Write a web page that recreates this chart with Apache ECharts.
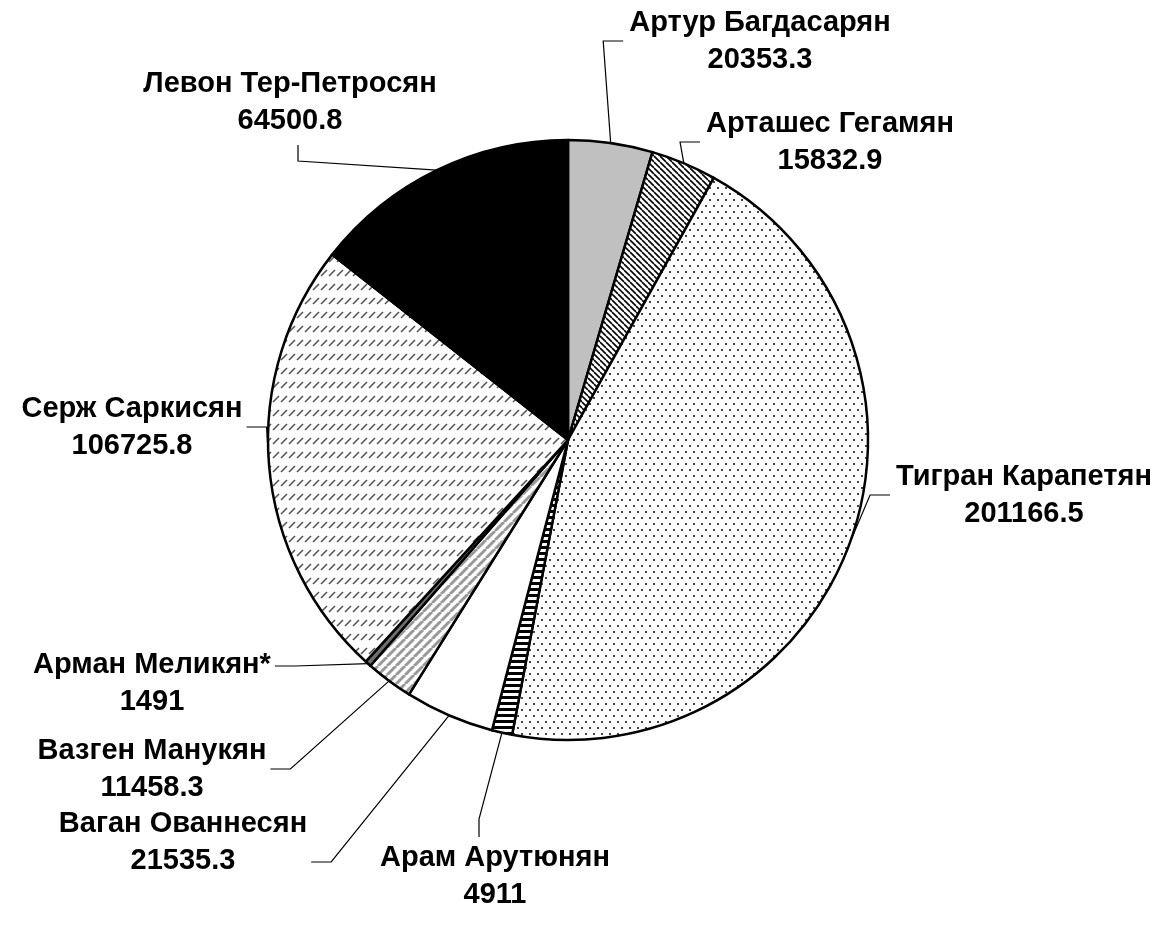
<!DOCTYPE html>
<html>
<head>
<meta charset="utf-8">
<script src="https://cdn.jsdelivr.net/npm/echarts@6/dist/echarts.min.js"></script>
<style>
  html, body { margin: 0; padding: 0; background: #fff; }
  #chart { width: 1165px; height: 936px; }
</style>
</head>
<body>
<div id="chart"></div>
<script>
// данные
var names = ['Артур Багдасарян', 'Арташес Гегамян', 'Тигран Карапетян', 'Арам Арутюнян',
             'Ваган Ованнесян', 'Вазген Манукян', 'Арман Меликян*', 'Серж Саркисян', 'Левон Тер-Петросян'];
var values = [20353.3, 15832.9, 201166.5, 4911, 21535.3, 11458.3, 1491, 106725.8, 64500.8];

// где стоят подписи (центр текста) и с какой стороны к ним подходит линия
var labelPos = [[760, 41], [830, 142], [1024, 495], [495, 876], [183, 842], [152, 769], [152, 683], [132, 427], [290, 102]];
var labelSide = ['left', 'left', 'left', 'top', 'right', 'right', 'right', 'right', 'bottom'];
var labelDy = [0, 0, 0, 0, 20, 0, -17, 0, 0];

function pattern(w, h, draw) {
    var c = document.createElement('canvas');
    c.width = w; c.height = h;
    var ctx = c.getContext('2d');
    ctx.fillStyle = '#fff';
    ctx.fillRect(0, 0, w, h);
    draw(ctx, w, h);
    return { image: c, repeat: 'repeat' };
}

var fills = [
    '#c0c0c0',
    // косая штриховка
    pattern(6, 6, function (ctx, w, h) {
        ctx.strokeStyle = '#000'; ctx.lineWidth = 1.6;
        for (var k = -1; k <= 1; k++) {
            ctx.beginPath(); ctx.moveTo(k * w, 0); ctx.lineTo(k * w + w, h); ctx.stroke();
        }
    }),
    // точки
    pattern(8, 12, function (ctx) {
        ctx.fillStyle = '#444';
        ctx.fillRect(1, 1, 2, 2);
        ctx.fillRect(5, 7, 2, 2);
    }),
    // горизонтальные полосы
    pattern(4, 6, function (ctx) {
        ctx.fillStyle = '#000';
        ctx.fillRect(0, 0, 4, 3);
    }),
    '#ffffff',
    // серые полосы
    pattern(9, 9, function (ctx, w, h) {
        ctx.strokeStyle = '#999'; ctx.lineWidth = 3;
        for (var k = -1; k <= 1; k++) {
            ctx.beginPath(); ctx.moveTo(k * w, h); ctx.lineTo(k * w + w, 0); ctx.stroke();
        }
    }),
    '#6e6e6e',
    // штрихи
    pattern(8, 14, function (ctx) {
        ctx.strokeStyle = '#555'; ctx.lineWidth = 1.6;
        ctx.beginPath(); ctx.moveTo(1, 10); ctx.lineTo(7, 4); ctx.stroke();
    }),
    '#000000'
];

var pieData = names.map(function (n, i) {
    return { name: n, value: values[i], itemStyle: { color: fills[i] } };
});

var chart = echarts.init(document.getElementById('chart'));

var option = {
    animation: false,
    backgroundColor: '#fff',
    series: [{
        type: 'pie',
        center: [568, 440],
        radius: 300,
        startAngle: 90,
        clockwise: true,
        data: pieData,
        itemStyle: { borderColor: '#000', borderWidth: 2.5 },
        label: {
            show: true,
            position: 'outside',
            formatter: function (p) { return p.name + '\n' + p.value; },
            fontFamily: 'Liberation Sans, Arial, sans-serif',
            fontWeight: 'bold',
            fontSize: 29,
            lineHeight: 37,
            color: '#000',
            align: 'center'
        },
        labelLine: {
            show: true,
            length: 15,
            length2: 15,
            lineStyle: { color: '#000', width: 1.2 }
        },
        labelLayout: function (p) {
            var i = p.dataIndex;
            var x = labelPos[i][0], y = labelPos[i][1];
            var w = p.labelRect.width, h = p.labelRect.height;
            var pts = p.labelLinePoints;
            var res = { x: x, y: y, align: 'center', verticalAlign: 'middle' };
            if (pts && pts.length) {
                var s = pts[0], end, elbow;
                var side = labelSide[i];
                if (side === 'left') {
                    end = [x - w / 2 - 6, y + labelDy[i]];
                    elbow = [end[0] - 20, end[1]];
                } else if (side === 'right') {
                    end = [x + w / 2 + 4, y + labelDy[i]];
                    elbow = [end[0] + 20, end[1]];
                } else if (side === 'top') {
                    end = [x - 16, y - h / 2 - 2];
                    elbow = [end[0], end[1] - 18];
                } else {
                    end = [x + 8, y + h / 2 + 6];
                    elbow = [end[0], end[1] + 16];
                }
                res.labelLinePoints = [s, elbow, end];
            }
            return res;
        }
    }]
};

chart.setOption(option);
</script>
</body>
</html>
